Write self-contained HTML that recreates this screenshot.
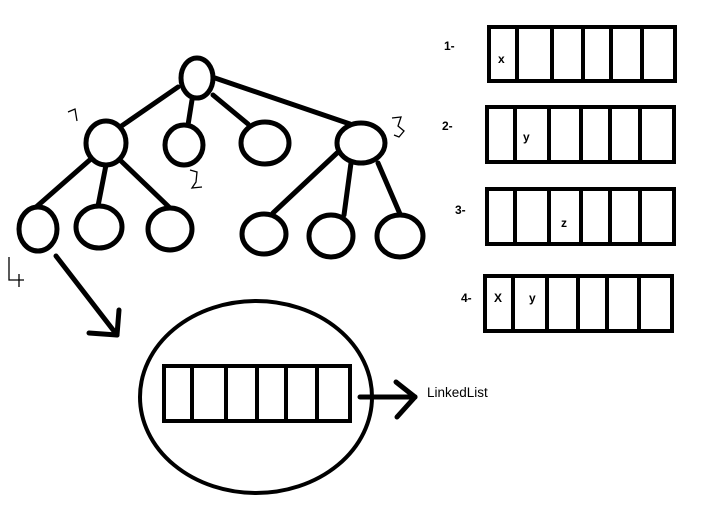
<!DOCTYPE html>
<html><head><meta charset="utf-8"><style>
html,body{margin:0;padding:0;background:#fff;width:718px;height:525px;overflow:hidden}
text{font-family:"Liberation Sans",sans-serif}
</style></head><body>
<svg width="718" height="525" xmlns="http://www.w3.org/2000/svg">
<g stroke="#000" stroke-width="5" fill="none" stroke-linecap="round">
<line x1="178" y1="87" x2="120" y2="127"/>
<line x1="192" y1="100" x2="188" y2="125"/>
<line x1="213" y1="95" x2="248" y2="124"/>
<line x1="215" y1="78" x2="350" y2="124"/>
<line x1="92" y1="158" x2="35" y2="208"/>
<line x1="106" y1="165" x2="98" y2="206"/>
<line x1="120" y1="160" x2="170" y2="208"/>
<line x1="337" y1="153" x2="273" y2="213"/>
<line x1="351" y1="163" x2="344" y2="215"/>
<line x1="378" y1="163" x2="400" y2="214"/>
<ellipse cx="197" cy="78" rx="16" ry="20" fill="#fff"/>
<ellipse cx="106" cy="143" rx="20" ry="22" fill="#fff"/>
<ellipse cx="184" cy="145" rx="19" ry="20" fill="#fff"/>
<ellipse cx="265" cy="143" rx="24" ry="21" fill="#fff"/>
<ellipse cx="361" cy="143" rx="24" ry="20" fill="#fff"/>
<ellipse cx="38" cy="229" rx="19" ry="22" fill="#fff"/>
<ellipse cx="99" cy="227" rx="23" ry="21" fill="#fff"/>
<ellipse cx="170" cy="229" rx="22" ry="21" fill="#fff"/>
<ellipse cx="264" cy="234" rx="22" ry="20" fill="#fff"/>
<ellipse cx="331" cy="236" rx="22" ry="21" fill="#fff"/>
<ellipse cx="400" cy="236" rx="23" ry="21" fill="#fff"/>
<line x1="56" y1="256" x2="117" y2="335"/>
<line x1="117" y1="335" x2="119" y2="310"/>
<line x1="117" y1="335" x2="89" y2="333"/>
<ellipse cx="256" cy="397" rx="116" ry="96" stroke-width="4"/>
<line x1="360" y1="397" x2="415" y2="397"/>
<line x1="415" y1="397" x2="396" y2="382"/>
<line x1="415" y1="397" x2="397" y2="417"/>
</g>
<g stroke="#000" stroke-width="1.3" fill="none">
<path d="M68 112 L75 109 L77 121"/>
<path d="M190 170 L197 172 L196 182 L192 188 L202 187"/>
<path d="M392 118 L401 117 L398 126 L404 131 L399 137 L394 135"/>
<path d="M9 257 L9 280 L24 280 M19 274 L19 287"/>
</g>
<g stroke="#000" stroke-width="4" fill="none">
<rect x="489" y="27" width="186" height="54"/>
<path d="M517 27V81M552 27V81M583 27V81M611 27V81M642 27V81"/>
<rect x="487" y="107" width="187" height="55"/>
<path d="M515 107V162M549 107V162M581 107V162M610 107V162M640 107V162"/>
<rect x="487" y="189" width="187" height="55"/>
<path d="M515 189V244M549 189V244M581 189V244M610 189V244M640 189V244"/>
<rect x="485" y="276" width="187" height="55"/>
<path d="M513 276V331M547 276V331M578 276V331M607 276V331M639 276V331"/>
<rect x="164" y="366" width="186" height="55"/>
<path d="M192 366V421M226 366V421M257 366V421M286 366V421M317 366V421"/>
</g>
<g font-size="12" font-weight="bold" fill="#000">
<text x="444" y="50">1-</text>
<text x="442" y="130">2-</text>
<text x="455" y="214">3-</text>
<text x="461" y="302">4-</text>
<text x="498" y="63">x</text>
<text x="523" y="141">y</text>
<text x="561" y="227">z</text>
<text x="494" y="302">X</text>
<text x="529" y="302">y</text>
</g>
<text x="427" y="397" font-size="13.5" fill="#000">LinkedList</text>
</svg>
</body></html>
